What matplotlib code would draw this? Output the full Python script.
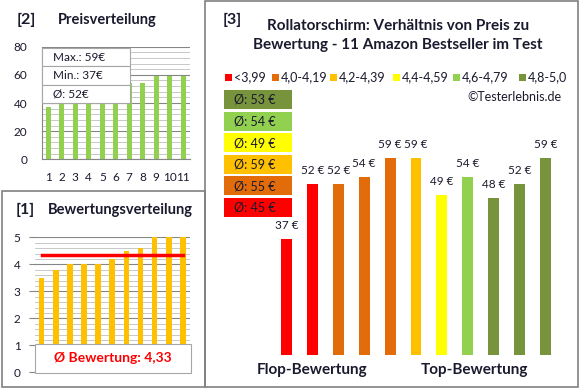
import matplotlib
matplotlib.use("Agg")
import matplotlib.pyplot as plt
from matplotlib.patches import Rectangle

plt.rcParams['font.family'] = ['Lato', 'DejaVu Sans']

# data
prices = [37, 52, 52, 54, 59, 59, 49, 54, 48, 52, 59]          # Euro, sorted by rating
ratings = [3.5, 3.8, 4.0, 4.0, 4.0, 4.2, 4.5, 4.6, 5.0, 5.0, 5.0]
groups = [0, 0, 1, 1, 1, 2, 3, 4, 5, 5, 5]                      # rating class per product
class_labels = ['<3,99', '4,0-4,19', '4,2-4,39', '4,4-4,59', '4,6-4,79', '4,8-5,0']
class_colors = ['#FF0000', '#E36C0A', '#FFC000', '#FFFF00', '#92D050', '#77933C']
price_sorted = sorted(prices)
products = list(range(1, 12))

W, H = 580, 390
TXT = '#1a1a2e'
fig = plt.figure(figsize=(W / 100, H / 100), dpi=100)


def px(l, t, r, b):
    return [l / W, 1 - b / H, (r - l) / W, (b - t) / H]


def rnd(v):
    return int(v + 0.5)


# overlay on top for frames, titles, boxes
ov = fig.add_axes([0, 0, 1, 1], zorder=10)
ov.set_xlim(0, W)
ov.set_ylim(H, 0)
ov.axis('off')
for (x0, y0, w, h) in [(2, 191, 203, 196), (205, 1, 373, 386)]:
    ov.add_patch(Rectangle((x0, y0), w, h, fill=False, ec='#808080', lw=1.2))

# ---------- [2] Preisverteilung ----------
ax2 = fig.add_axes(px(41.5, 46.7, 190, 159.3), zorder=1)
ax2.bar(products, price_sorted, width=0.4, color='#92D050', zorder=2)
ax2.set_xlim(0.5, 11.5)
ax2.set_ylim(0, 80)
ax2.set_yticks(range(0, 81, 20))
ax2.set_yticks(range(0, 81, 4), minor=True)
ax2.set_xticks(products)
ax2.grid(axis='y', which='major', color='#868686', lw=0.8, zorder=0)
ax2.grid(axis='y', which='minor', color='#bfbfbf', lw=0.6, zorder=0)
ax2.tick_params(axis='y', which='both', length=0, labelsize=8.5, colors=TXT, pad=10)
ax2.tick_params(axis='x', length=0, labelsize=8.5, colors=TXT, pad=9)
for s in ['top', 'right']:
    ax2.spines[s].set_visible(False)
ax2.spines['left'].set_color('#868686')
ax2.spines['bottom'].set_color('#868686')

ov.text(17, 20, '[2]', fontsize=11.5, fontweight='bold', color=TXT, va='center')
ov.text(58, 20, 'Preisverteilung', fontsize=10.5, fontweight='bold', color=TXT, va='center')
box_txt = ['Max.: %d€' % max(prices), 'Min.: %d€' % min(prices),
           'Ø: %d€' % rnd(sum(prices) / len(prices))]
for i, t in enumerate(box_txt):
    y0 = 48 + i * 18.3
    ov.add_patch(Rectangle((42, y0), 88, 18.3, fc='white', ec='#a6a6a6', lw=0.8))
    ov.text(53, y0 + 9.5, t, fontsize=8.5, color=TXT, va='center')

# ---------- [1] Bewertungsverteilung ----------
ax1 = fig.add_axes(px(34.5, 237.3, 190, 372.3), zorder=1)
ax1.bar(products, ratings, width=0.4, color='#FFC000', zorder=2)
mean_rating = sum(ratings) / len(ratings)
ax1.plot([1, 11], [mean_rating, mean_rating], color='#FF0000', lw=2.5, zorder=3)
ax1.set_xlim(0.5, 11.5)
ax1.set_ylim(0, 5)
ax1.set_yticks(range(0, 6))
ax1.set_yticks([i * 0.2 for i in range(26)], minor=True)
ax1.set_xticks([])
ax1.grid(axis='y', which='major', color='#868686', lw=0.8, zorder=0)
ax1.grid(axis='y', which='minor', color='#bfbfbf', lw=0.6, zorder=0)
ax1.tick_params(axis='y', which='major', length=4, color='#868686', labelsize=8.5, colors=TXT, pad=6)
ax1.tick_params(axis='y', which='minor', length=0)
for s in ['top', 'right', 'left', 'bottom']:
    ax1.spines[s].set_visible(False)

ov.text(16, 210, '[1]', fontsize=11.5, fontweight='bold', color=TXT, va='center')
ov.text(48, 210, 'Bewertungsverteilung', fontsize=10.5, fontweight='bold', color=TXT, va='center')
ov.add_patch(Rectangle((35, 344), 156, 28.7, fc='white', ec='#a6a6a6', lw=0.8))
ov.text(113, 358.5, 'Ø Bewertung: ' + ('%.2f' % mean_rating).replace('.', ','),
        fontsize=10, fontweight='bold', color='#FF0000', ha='center', va='center')

# ---------- [3] main chart ----------
ax3 = fig.add_axes(px(273.5, 100.2, 558.5, 355), zorder=1)
x = list(range(len(prices)))
ax3.bar(x, prices, width=0.42, color=[class_colors[g] for g in groups])
for xi, p in zip(x, prices):
    ax3.text(xi, p + 2.2, '%d €' % p, ha='center', va='bottom', fontsize=8.5, color=TXT)
ax3.set_xlim(-0.5, 10.5)
ax3.set_ylim(5, 75)
ax3.axis('off')

ov.text(223, 20, '[3]', fontsize=11.5, fontweight='bold', color=TXT, va='center')
ov.text(398, 26, 'Rollatorschirm: Verhältnis von Preis zu', fontsize=11,
        fontweight='bold', color=TXT, ha='center', va='center')
ov.text(398, 45, 'Bewertung - 11 Amazon Bestseller im Test', fontsize=11,
        fontweight='bold', color=TXT, ha='center', va='center')

leg_x = [225, 272, 330, 393, 453, 519]
for lx, lab, c in zip(leg_x, class_labels, class_colors):
    ov.add_patch(Rectangle((lx, 73.5), 7, 7, fc=c, ec='none'))
    ov.text(lx + 9, 77.5, lab, fontsize=9, color=TXT, va='center')
ov.text(562, 97, '©Testerlebnis.de', fontsize=9, color=TXT, ha='right', va='center')

# average price per rating class, top box = best class
for k in range(6):
    vals = [p for p, g in zip(prices, groups) if g == k]
    avg = rnd(sum(vals) / len(vals))
    y0 = 90 + (5 - k) * 21.6
    ov.add_patch(Rectangle((224, y0), 68, 19, fc=class_colors[k], ec='none'))
    ov.text(234, y0 + 10, 'Ø: %d €' % avg, fontsize=9, color=TXT, va='center')

ov.text(312, 370, 'Flop-Bewertung', fontsize=11, fontweight='bold', color=TXT,
        ha='center', va='center')
ov.text(474, 370, 'Top-Bewertung', fontsize=11, fontweight='bold', color=TXT,
        ha='center', va='center')

fig.savefig('out.png', dpi=100)
